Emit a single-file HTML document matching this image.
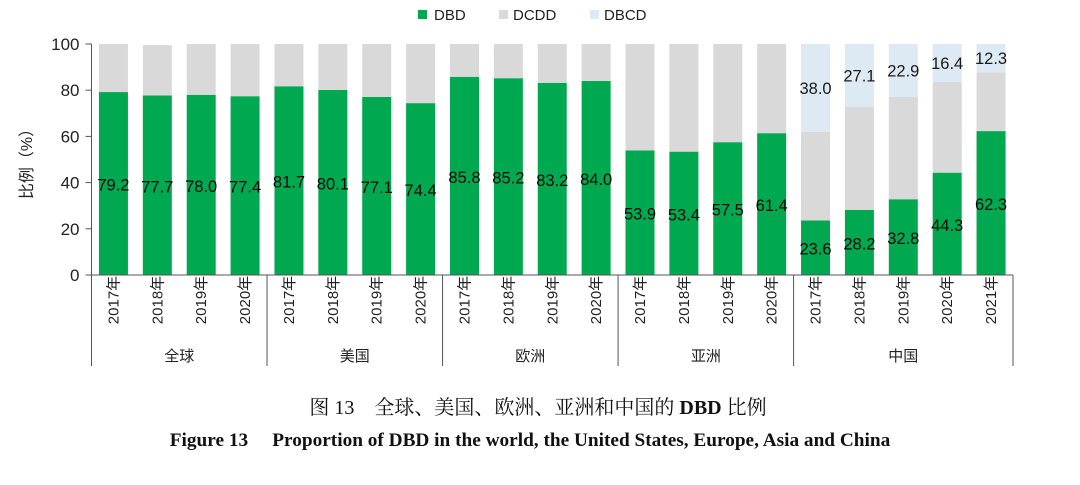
<!DOCTYPE html>
<html><head><meta charset="utf-8"><style>
body{margin:0;background:#fff;width:1080px;height:480px;overflow:hidden}
svg text{font-family:"Liberation Sans","Noto Sans CJK SC",sans-serif}
</style></head><body>
<svg id="chart" width="1080" height="480">
<g>
<rect x="418" y="10" width="9" height="9" fill="#00a84f"/>
<text x="434" y="20" font-size="15" fill="#222">DBD</text>
<rect x="499" y="10" width="9" height="9" fill="#d9d9d9"/>
<text x="513" y="20" font-size="15" fill="#222">DCDD</text>
<rect x="590" y="10" width="9" height="9" fill="#dde9f3"/>
<text x="604" y="20" font-size="15" fill="#222">DBCD</text>
</g>
<text transform="translate(32,160) rotate(-90)" text-anchor="middle" font-size="16" fill="#222">比例（%）</text>
<text x="538" y="414" text-anchor="middle" font-size="20" fill="#111" style="font-family:'Liberation Serif','Noto Serif CJK SC',serif">图 13　全球、美国、欧洲、亚洲和中国的 <tspan font-weight="bold">DBD</tspan> 比例</text>
<text x="530" y="446" text-anchor="middle" font-size="19.3" font-weight="bold" fill="#111" style="font-family:'Liberation Serif',serif">Figure 13　 Proportion of DBD in the world, the United States, Europe, Asia and China</text>
</svg>
<script>
const groups = ["全球","美国","欧洲","亚洲","中国"];
const groupSizes = [4,4,4,4,5];
const years = ["2017年","2018年","2019年","2020年","2017年","2018年","2019年","2020年","2017年","2018年","2019年","2020年","2017年","2018年","2019年","2020年","2017年","2018年","2019年","2020年","2021年"];
const dbd = [79.2,77.7,78.0,77.4,81.7,80.1,77.1,74.4,85.8,85.2,83.2,84.0,53.9,53.4,57.5,61.4,23.6,28.2,32.8,44.3,62.3];
const dcdd = [20.8,21.8,22.0,22.6,18.3,19.9,22.9,25.6,14.2,14.8,16.8,16.0,46.1,46.6,42.5,38.6,38.4,44.7,44.3,39.3,25.4];
const dbcd = [0,0,0,0,0,0,0,0,0,0,0,0,0,0,0,0,38.0,27.1,22.9,16.4,12.3];
const yTicks = [0,20,40,60,80,100];

const svg = document.getElementById('chart');
const NS = 'http://www.w3.org/2000/svg';
const x0 = 91.5, x1 = 1013, yTop = 44, yBot = 275;
const slot = (x1 - x0) / years.length, bw = 29;
const y = v => yBot - v / 100 * (yBot - yTop);
const xc = i => x0 + slot * (i + 0.5);
function mk(tag, attrs){const e=document.createElementNS(NS,tag);for(const k in attrs)e.setAttribute(k,attrs[k]);svg.appendChild(e);return e;}

yTicks.forEach(t=>{
  const tl = mk('line',{x1:x0-6,x2:x0,y1:y(t),y2:y(t),stroke:'#555'});
  
  
  const tx = mk('text',{x:x0-12,y:y(t)+6,'text-anchor':'end','font-size':17,fill:'#222'});
  tx.textContent = t;
  
  
});

years.forEach((yr,i)=>{
  const c = xc(i), l = c - bw/2;
  const b1 = mk('rect',{x:l,y:y(dbd[i]),width:bw,height:y(0)-y(dbd[i]),fill:'#00a84f'});
  
  
  const b2 = mk('rect',{x:l,y:y(dbd[i]+dcdd[i]),width:bw,height:y(dbd[i])-y(dbd[i]+dcdd[i]),fill:'#d9d9d9'});
  
  
  if(dbcd[i]>0){
    const s = dbd[i]+dcdd[i];
    const b3 = mk('rect',{x:l,y:y(s+dbcd[i]),width:bw,height:y(s)-y(s+dbcd[i]),fill:'#dde9f3'});
    
    
    const t3 = mk('text',{x:c,y:y(s+dbcd[i]/2)+6,'text-anchor':'middle','font-size':16.5,fill:'#1a1a1a'});
    t3.textContent = dbcd[i].toFixed(1);
    
    
  }
  const t1 = mk('text',{x:c,y:y(dbd[i]/2)+7,'text-anchor':'middle','font-size':16.5,fill:'#0a0a0a'});
  t1.textContent = dbd[i].toFixed(1);
  
  
  const yl = mk('text',{transform:`translate(${c+5},300) rotate(-90)`,'text-anchor':'middle','font-size':15,fill:'#222'});
  yl.textContent = yr;
  
  
});

const ax = mk('line',{x1:x0,x2:x0,y1:yTop,y2:yBot,stroke:'#555'});


const bx = mk('line',{x1:x0-6,x2:x1,y1:yBot,y2:yBot,stroke:'#555'});



let idx = 0;
const seps = [0];
groups.forEach((g,gi)=>{
  const start = idx; idx += groupSizes[gi]; seps.push(idx);
  const gt = mk('text',{x:x0+slot*(start+idx)/2,y:361,'text-anchor':'middle','font-size':15,fill:'#222'});
  gt.textContent = g;
  
  
});
seps.forEach(s=>{
  const sl = mk('line',{x1:x0+slot*s,x2:x0+slot*s,y1:yBot,y2:366,stroke:'#555'});
  
  
});
</script>
</body></html>
